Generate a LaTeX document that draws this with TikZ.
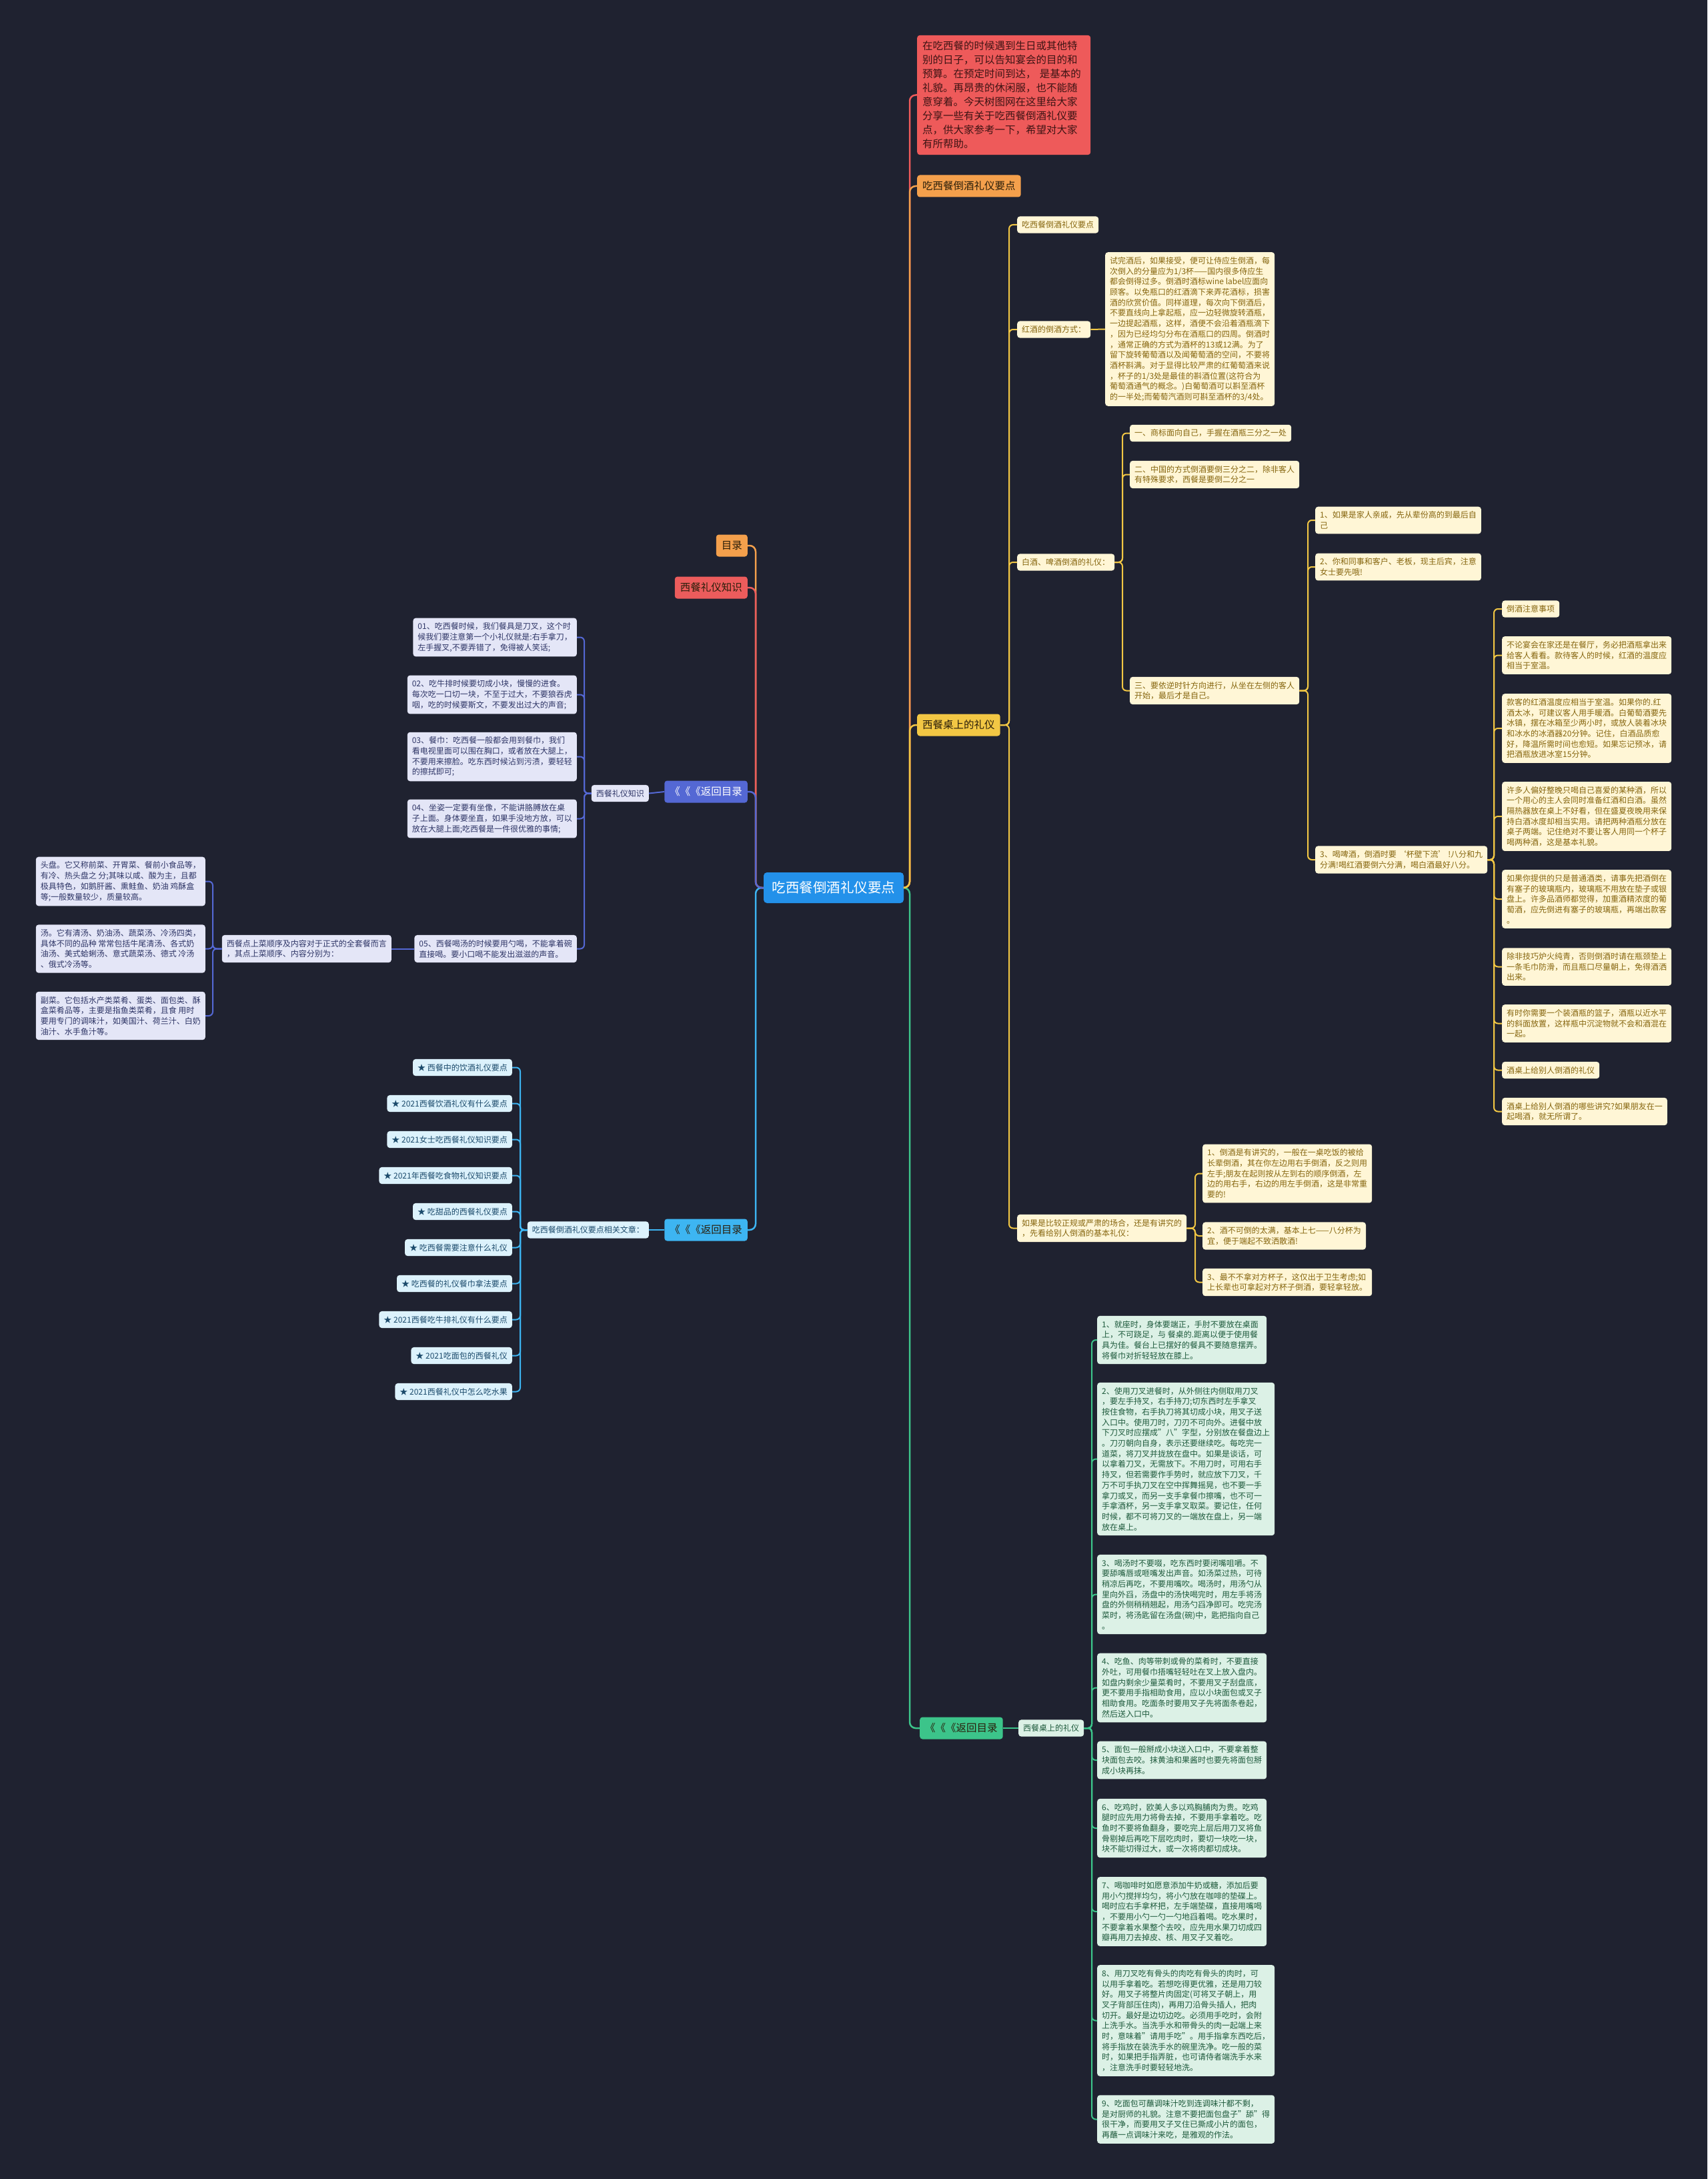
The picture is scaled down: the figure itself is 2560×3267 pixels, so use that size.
\documentclass[tikz,border=0pt]{standalone}
\usepackage{fontspec}
\setmainfont{Noto Sans CJK SC}
\usepackage{xcolor}
\usepackage{tikz}
\usetikzlibrary{positioning, calc}
\definecolor{bgnavy}{HTML}{1F2230}
\definecolor{rootblue}{HTML}{2391EA}
\definecolor{introred}{HTML}{EE5A5A}
\definecolor{introtext}{HTML}{3E1414}
\definecolor{orangeb}{HTML}{F4A04C}
\definecolor{redb}{HTML}{EC5C5C}
\definecolor{goldb}{HTML}{F2C744}
\definecolor{greenb}{HTML}{3CC48A}
\definecolor{indigob}{HTML}{5468D4}
\definecolor{skyb}{HTML}{3DB5F2}
\definecolor{maintext}{HTML}{2A1E0A}
\definecolor{ycream}{HTML}{FFF6D6}
\definecolor{ytext}{HTML}{86660F}
\definecolor{gmint}{HTML}{DCF1E6}
\definecolor{gtext}{HTML}{1E5A3C}
\definecolor{ilav}{HTML}{E4E6F7}
\definecolor{itext}{HTML}{2E3566}
\definecolor{bpale}{HTML}{DCF2FC}
\definecolor{btext}{HTML}{1B4A6B}

\begin{document}
\begin{tikzpicture}[
    x=1pt, y=-1pt,
    rootbox/.style={rectangle, fill=rootblue, rounded corners=5pt, text=white,
                    minimum width=210pt, minimum height=46pt, font=\fontsize{20.5}{24}\selectfont},
    introbox/.style={rectangle, fill=introred, rounded corners=4pt, text=introtext, align=left,
                     text width=244pt, inner xsep=8pt, inner ysep=9pt, font=\fontsize{15.5}{21}\selectfont},
    mainbox/.style={rectangle, fill=#1, rounded corners=4pt, text=maintext, minimum height=33pt,
                    inner xsep=8pt, inner ysep=0pt, font=\fontsize{15.5}{20}\selectfont},
    yleaf/.style={rectangle, fill=ycream, rounded corners=4pt, text=ytext, align=left,
                  inner xsep=7pt, inner ysep=7pt, font=\fontsize{12}{15.7}\selectfont},
    gleaf/.style={yleaf, fill=gmint, text=gtext},
    ileaf/.style={yleaf, fill=ilav, text=itext},
    bleaf/.style={yleaf, fill=bpale, text=btext},
    link/.style={draw=#1, line width=2.5pt, rounded corners=9pt},
    sublink/.style={draw=#1, line width=2pt, rounded corners=6pt},
]
    % ── Canvas ──
    \useasboundingbox (0,0) rectangle (2560,3267);
    \fill[bgnavy] (0,0) rectangle (2560,3267);

    % ── Trunk columns ──
    \coordinate (tR)  at (1364,0);
    \coordinate (tL)  at (1133,0);
    \coordinate (tY1) at (1513,0);
    \coordinate (tY2) at (1683,0);
    \coordinate (tY3) at (1961,0);
    \coordinate (tY4) at (2240,0);
    \coordinate (tY5) at (1792,0);
    \coordinate (tG)  at (1637,0);
    \coordinate (tI)  at (876,0);
    \coordinate (tI3) at (319,0);
    \coordinate (tB)  at (780,0);

    % ── ROOT ──
    \node[rootbox] (root) at (1250,1331) {吃西餐倒酒礼仪要点};

    % ── RIGHT BRANCHES ──
    \node[introbox, anchor=west] (intro) at (1375,142.5) {在吃西餐的时候遇到生日或其他特\\别的日子，可以告知宴会的目的和\\预算。在预定时间到达， 是基本的\\礼貌。再昂贵的休闲服，也不能随\\意穿着。今天树图网在这里给大家\\分享一些有关于吃西餐倒酒礼仪要\\点，供大家参考一下，希望对大家\\有所帮助。};
    \node[mainbox=orangeb, anchor=west] (pts)   at (1375,279)  {吃西餐倒酒礼仪要点};
    \node[mainbox=goldb, anchor=west]   (tbl)   at (1375,1087) {西餐桌上的礼仪};
    \node[mainbox=greenb, anchor=west]  (backG) at (1379,2591) {《《《返回目录};

    % ── LEFT BRANCHES ──
    \node[mainbox=orangeb, anchor=east] (toc)   at (1121,818)  {目录};
    \node[mainbox=redb, anchor=east]    (know)  at (1121,881)  {西餐礼仪知识};
    \node[mainbox=indigob, text=white, anchor=east] (backI) at (1121,1187) {《《《返回目录};
    \node[mainbox=skyb, anchor=east]    (backB) at (1121,1844) {《《《返回目录};

    % Root links
    \draw[link=introred] (root.east) -- (root.east -| tR) |- (intro.west);
    \draw[link=orangeb]  (root.east) -- (root.east -| tR) |- (pts.west);
    \draw[link=greenb]   (root.east) -- (root.east -| tR) |- (backG.west);
    \draw[link=goldb]    (root.east) -- (root.east -| tR) |- (tbl.west);
    \draw[link=orangeb]  (root.west) -- (root.west -| tL) |- (toc.east);
    \draw[link=redb]     (root.west) -- (root.west -| tL) |- (know.east);
    \draw[link=skyb]     (root.west) -- (root.west -| tL) |- (backB.east);
    \draw[link=indigob]  (root.west) -- (root.west -| tL) |- (backI.east);

    % ── YELLOW: 西餐桌上的礼仪 ──
    \node[yleaf, anchor=west] (tblA)   at (1525,337) {吃西餐倒酒礼仪要点};
    \node[yleaf, anchor=west] (redWay) at (1525,494) {红酒的倒酒方式：};
    \node[yleaf, anchor=west] (redTxt) at (1657,493.5) {试完酒后，如果接受，便可让侍应生倒酒，每\\次倒入的分量应为1/3杯——国内很多侍应生\\都会倒得过多。倒酒时酒标wine label应面向\\顾客。以免瓶口的红酒滴下来弄花酒标，损害\\酒的欣赏价值。同样道理，每次向下倒酒后，\\不要直线向上拿起瓶，应一边轻微旋转酒瓶，\\一边提起酒瓶，这样，酒便不会沿着酒瓶滴下\\，因为已经均匀分布在酒瓶口的四周。倒酒时\\，通常正确的方式为酒杯的13或12满。为了\\留下旋转葡萄酒以及闻葡萄酒的空间，不要将\\酒杯斟满。对于显得比较严肃的红葡萄酒来说\\，杯子的1/3处是最佳的斟酒位置(这符合为\\葡萄酒通气的概念。)白葡萄酒可以斟至酒杯\\的一半处;而葡萄汽酒则可斟至酒杯的3/4处。};
    \node[yleaf, anchor=west] (baijiu) at (1525,843) {白酒、啤酒倒酒的礼仪：};
    \node[yleaf, anchor=west] (bj1) at (1694,649.5)  {一、商标面向自己，手握在酒瓶三分之一处};
    \node[yleaf, anchor=west] (bj2) at (1694,711.5)  {二、中国的方式倒酒要倒三分之二，除非客人\\有特殊要求，西餐是要倒二分之一};
    \node[yleaf, anchor=west] (bj3) at (1694,1035.5) {三、要依逆时针方向进行，从坐在左侧的客人\\开始，最后才是自己。};
    \node[yleaf, anchor=west] (ord1) at (1972,780)  {1、如果是家人亲戚，先从辈份高的到最后自\\己};
    \node[yleaf, anchor=west] (ord2) at (1972,850)  {2、你和同事和客户、老板，现主后宾，注意\\女士要先哦!};
    \node[yleaf, anchor=west] (beer) at (1972,1289) {3、喝啤酒，倒酒时要 ‘杯壁下流’ !八分和九\\分满!喝红酒要倒六分满，喝白酒最好八分。};

    \node[yleaf, anchor=west] (tip1) at (2252,913)    {倒酒注意事项};
    \node[yleaf, anchor=west] (tip2) at (2252,982.5)  {不论宴会在家还是在餐厅，务必把酒瓶拿出来\\给客人看看。款待客人的时候，红酒的温度应\\相当于室温。};
    \node[yleaf, anchor=west] (tip3) at (2252,1092)   {款客的红酒温度应相当于室温。如果你的.红\\酒太冰，可建议客人用手暖酒。白葡萄酒要先\\冰镇，摆在冰箱至少两小时，或放人装着冰块\\和冰水的冰酒器20分钟。记住，白酒品质愈\\好，降温所需时间也愈短。如果忘记预冰，请\\把酒瓶放进冰室15分钟。};
    \node[yleaf, anchor=west] (tip4) at (2252,1224)   {许多人偏好整晚只喝自己喜爱的某种酒，所以\\一个用心的主人会同时准备红酒和白酒。虽然\\隔热器放在桌上不好看，但在盛夏夜晚用来保\\持白酒冰度却相当实用。请把两种酒瓶分放在\\桌子两端。记住绝对不要让客人用同一个杯子\\喝两种酒，这是基本礼貌。};
    \node[yleaf, anchor=west] (tip5) at (2252,1348)   {如果你提供的只是普通酒类，请事先把酒倒在\\有塞子的玻璃瓶内，玻璃瓶不用放在垫子或银\\盘上。许多品酒师都觉得，加重酒精浓度的葡\\萄酒，应先倒进有塞子的玻璃瓶，再端出款客\\。};
    \node[yleaf, anchor=west] (tip6) at (2252,1449.5) {除非技巧炉火纯青，否则倒酒时请在瓶颈垫上\\一条毛巾防滑，而且瓶口尽量朝上，免得酒洒\\出来。};
    \node[yleaf, anchor=west] (tip7) at (2252,1534.5) {有时你需要一个装酒瓶的篮子，酒瓶以近水平\\的斜面放置，这样瓶中沉淀物就不会和酒混在\\一起。};
    \node[yleaf, anchor=west] (tip8) at (2252,1604.5) {酒桌上给别人倒酒的礼仪};
    \node[yleaf, anchor=west] (tip9) at (2252,1666.5) {酒桌上给别人倒酒的哪些讲究?如果朋友在一\\起喝酒，就无所谓了。};

    \node[yleaf, anchor=west] (formal) at (1525,1841.5) {如果是比较正规或严肃的场合，还是有讲究的\\，先看给别人倒酒的基本礼仪：};
    \node[yleaf, anchor=west] (fm1) at (1803,1759.5) {1、倒酒是有讲究的，一般在一桌吃饭的被给\\长辈倒酒，其在你左边用右手倒酒，反之则用\\左手;朋友在起则按从左到右的顺序倒酒，左\\边的用右手，右边的用左手倒酒，这是非常重\\要的!};
    \node[yleaf, anchor=west] (fm2) at (1803,1853)   {2、酒不可倒的太满，基本上七——八分杯为\\宜，便于端起不致洒散酒!};
    \node[yleaf, anchor=west] (fm3) at (1803,1922.5) {3、最不不拿对方杯子，这仅出于卫生考虑;如\\上长辈也可拿起对方杯子倒酒，要轻拿轻放。};

    % Yellow links
    \foreach \n in {tblA, redWay, baijiu, formal}
        \draw[sublink=goldb] (tbl.east) -- (tbl.east -| tY1) |- (\n.west);
    \draw[sublink=goldb] (redWay.east) -- (redTxt.west);
    \foreach \n in {bj1, bj2, bj3}
        \draw[sublink=goldb] (baijiu.east) -- (baijiu.east -| tY2) |- (\n.west);
    \foreach \n in {ord1, ord2, beer}
        \draw[sublink=goldb] (bj3.east) -- (bj3.east -| tY3) |- (\n.west);
    \foreach \n in {tip1, tip2, tip3, tip4, tip5, tip6, tip7, tip8, tip9}
        \draw[sublink=goldb] (beer.east) -- (beer.east -| tY4) |- (\n.west);
    \foreach \n in {fm1, fm2, fm3}
        \draw[sublink=goldb] (formal.east) -- (formal.east -| tY5) |- (\n.west);

    % ── GREEN: 返回目录 ──
    \node[gleaf, anchor=west] (tblG) at (1527,2591) {西餐桌上的礼仪};
    \node[gleaf, anchor=west] (g1) at (1645,2009)   {1、就座时，身体要端正，手肘不要放在桌面\\上，不可跷足，与 餐桌的.距离以便于使用餐\\具为佳。餐台上已摆好的餐具不要随意摆弄。\\将餐巾对折轻轻放在膝上。};
    \node[gleaf, anchor=west] (g2) at (1645,2187.5) {2、使用刀叉进餐时，从外侧往内侧取用刀叉\\，要左手持叉，右手持刀;切东西时左手拿叉\\按住食物，右手执刀将其切成小块，用叉子送\\入口中。使用刀时，刀刃不可向外。进餐中放\\下刀叉时应摆成"八"字型，分别放在餐盘边上\\。刀刃朝向自身，表示还要继续吃。每吃完一\\道菜，将刀叉并拢放在盘中。如果是谈话，可\\以拿着刀叉，无需放下。不用刀时，可用右手\\持叉，但若需要作手势时，就应放下刀叉，千\\万不可手执刀叉在空中挥舞摇晃，也不要一手\\拿刀或叉，而另一支手拿餐巾擦嘴，也不可一\\手拿酒杯，另一支手拿叉取菜。要记住，任何\\时候，都不可将刀叉的一端放在盘上，另一端\\放在桌上。};
    \node[gleaf, anchor=west] (g3) at (1645,2390.5) {3、喝汤时不要啜，吃东西时要闭嘴咀嚼。不\\要舔嘴唇或咂嘴发出声音。如汤菜过热，可待\\稍凉后再吃，不要用嘴吹。喝汤时，用汤勺从\\里向外舀，汤盘中的汤快喝完时，用左手将汤\\盘的外侧稍稍翘起，用汤勺舀净即可。吃完汤\\菜时，将汤匙留在汤盘(碗)中，匙把指向自己\\。};
    \node[gleaf, anchor=west] (g4) at (1645,2530.5) {4、吃鱼、肉等带刺或骨的菜肴时，不要直接\\外吐，可用餐巾捂嘴轻轻吐在叉上放入盘内。\\如盘内剩余少量菜肴时，不要用叉子刮盘底，\\更不要用手指相助食用，应以小块面包或叉子\\相助食用。吃面条时要用叉子先将面条卷起，\\然后送入口中。};
    \node[gleaf, anchor=west] (g5) at (1645,2639)   {5、面包一般掰成小块送入口中，不要拿着整\\块面包去咬。抹黄油和果酱时也要先将面包掰\\成小块再抹。};
    \node[gleaf, anchor=west] (g6) at (1645,2741)   {6、吃鸡时，欧美人多以鸡胸脯肉为贵。吃鸡\\腿时应先用力将骨去掉，不要用手拿着吃。吃\\鱼时不要将鱼翻身，要吃完上层后用刀叉将鱼\\骨剔掉后再吃下层吃肉时，要切一块吃一块，\\块不能切得过大，或一次将肉都切成块。};
    \node[gleaf, anchor=west] (g7) at (1645,2866)   {7、喝咖啡时如愿意添加牛奶或糖，添加后要\\用小勺搅拌均匀，将小勺放在咖啡的垫碟上。\\喝时应右手拿杯把，左手端垫碟，直接用嘴喝\\，不要用小勺一勺一勺地舀着喝。吃水果时，\\不要拿着水果整个去咬，应先用水果刀切成四\\瓣再用刀去掉皮、核、用叉子叉着吃。};
    \node[gleaf, anchor=west] (g8) at (1645,3029.5) {8、用刀叉吃有骨头的肉吃有骨头的肉时，可\\以用手拿着吃。若想吃得更优雅，还是用刀较\\好。用叉子将整片肉固定(可将叉子朝上，用\\叉子背部压住肉)，再用刀沿骨头插人，把肉\\切开。最好是边切边吃。必须用手吃时，会附\\上洗手水。当洗手水和带骨头的肉一起端上来\\时，意味着"请用手吃"。用手指拿东西吃后，\\将手指放在装洗手水的碗里洗净。吃一般的菜\\时，如果把手指弄脏，也可请侍者端洗手水来\\，注意洗手时要轻轻地洗。};
    \node[gleaf, anchor=west] (g9) at (1645,3177.5) {9、吃面包可蘸调味汁吃到连调味汁都不剩，\\是对厨师的礼貌。注意不要把面包盘子"舔"得\\很干净，而要用叉子叉住已撕成小片的面包，\\再蘸一点调味汁来吃，是雅观的作法。};

    % Green links
    \draw[sublink=greenb] (backG.east) -- (tblG.west);
    \foreach \i in {1,...,9}
        \draw[sublink=greenb] (tblG.east) -- (tblG.east -| tG) |- (g\i.west);

    % ── INDIGO: 西餐礼仪知识 ──
    \node[ileaf, anchor=east] (knowI) at (973,1189.5) {西餐礼仪知识};
    \node[ileaf, anchor=east] (k1) at (865,955.5)  {01、吃西餐时候，我们餐具是刀叉，这个时\\候我们要注意第一个小礼仪就是:右手拿刀，\\左手握叉,不要弄错了，免得被人笑话;};
    \node[ileaf, anchor=east] (k2) at (865,1041.5) {02、吃牛排时候要切成小块，慢慢的进食。\\每次吃一口切一块，不至于过大，不要狼吞虎\\咽，吃的时候要斯文，不要发出过大的声音;};
    \node[ileaf, anchor=east] (k3) at (865,1134.5) {03、餐巾：吃西餐一般都会用到餐巾，我们\\看电视里面可以围在胸口，或者放在大腿上，\\不要用来擦脸。吃东西时候沾到污渍，要轻轻\\的擦拭即可;};
    \node[ileaf, anchor=east] (k4) at (865,1227.5) {04、坐姿一定要有坐像，不能讲胳膊放在桌\\子上面。身体要坐直，如果手没地方放，可以\\放在大腿上面;吃西餐是一件很优雅的事情;};
    \node[ileaf, anchor=east] (k5) at (865,1422.5) {05、西餐喝汤的时候要用勺喝，不能拿着碗\\直接喝。要小口喝不能发出滋滋的声音。};
    \node[ileaf, anchor=east] (course) at (587,1422.5) {西餐点上菜顺序及内容对于正式的全套餐而言\\，其点上菜顺序、内容分别为：};
    \node[ileaf, anchor=east] (c1) at (308,1321.5) {头盘。它又称前菜、开胃菜、餐前小食品等，\\有冷、热头盘之 分;其味以咸、酸为主，且都\\极具特色，如鹅肝酱、熏鲑鱼、奶油 鸡酥盒\\等;一般数量较少，质量较高。};
    \node[ileaf, anchor=east] (c2) at (308,1422.5) {汤。它有清汤、奶油汤、蔬菜汤、冷汤四类，\\具体不同的品种 常常包括牛尾清汤、各式奶\\油汤、美式蛤蜊汤、意式蔬菜汤、德式 冷汤\\、俄式冷汤等。};
    \node[ileaf, anchor=east] (c3) at (308,1523)   {副菜。它包括水产类菜肴、蛋类、面包类、酥\\盒菜肴品等，主要是指鱼类菜肴，且食 用时\\要用专门的调味汁，如美国汁、荷兰汁、白奶\\油汁、水手鱼汁等。};

    % Indigo links
    \draw[sublink=indigob] (backI.west) -- (knowI.east);
    \foreach \i in {1,...,5}
        \draw[sublink=indigob] (knowI.west) -- (knowI.west -| tI) |- (k\i.east);
    \draw[sublink=indigob] (k5.west) -- (course.east);
    \foreach \i in {1,2,3}
        \draw[sublink=indigob] (course.west) -- (course.west -| tI3) |- (c\i.east);

    % ── SKY BLUE: 相关文章 ──
    \node[bleaf, anchor=east] (related) at (973,1844) {吃西餐倒酒礼仪要点相关文章：};
    \foreach \t [count=\i] in {西餐中的饮酒礼仪要点, 2021西餐饮酒礼仪有什么要点,
        2021女士吃西餐礼仪知识要点, 2021年西餐吃食物礼仪知识要点, 吃甜品的西餐礼仪要点,
        吃西餐需要注意什么礼仪, 吃西餐的礼仪餐巾拿法要点, 2021西餐吃牛排礼仪有什么要点,
        2021吃面包的西餐礼仪, 2021西餐礼仪中怎么吃水果}
        \node[bleaf, anchor=east] (r\i) at (768,1600.5+54*\i-54) {★ \t};

    % Sky blue links
    \draw[sublink=skyb] (backB.west) -- (related.east);
    \foreach \i in {1,...,10}
        \draw[sublink=skyb] (related.west) -- (related.west -| tB) |- (r\i.east);

\end{tikzpicture}
\end{document}
